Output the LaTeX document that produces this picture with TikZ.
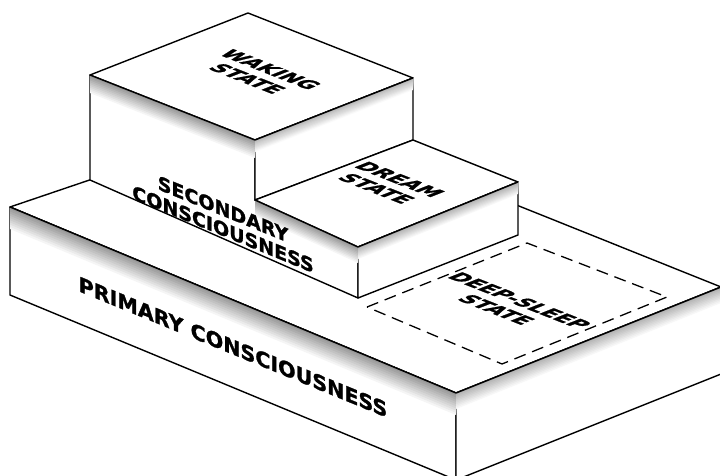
\documentclass[tikz,border=0pt]{standalone}
\usepackage{fontspec}
\newfontfamily\labelfont{DejaVu Sans}[BoldFeatures={FakeBold=1.3}]
\usetikzlibrary{calc}

% grey fade below an edge: from, to, depth, darkness
\newcommand{\edgeshade}[4]{%
  \foreach \k in {0,...,9}{
    \pgfmathtruncatemacro{\shd}{#4*(\k+1)/10}
    \pgfmathsetmacro{\dep}{#3*(10-\k)/10}
    \fill[black!\shd] (#1) -- (#2) -- ($(#2)+(0,\dep)$) -- ($(#1)+(0,\dep)$) -- cycle;
  }}

\begin{document}
\begin{tikzpicture}[
    x=1pt, y=-1pt,
    line join=round,
    face/.style={
        fill=white,
        draw=black,
        line width=1.4pt
    },
    edge/.style={
        draw=black,
        line width=1.4pt
    },
    sleep/.style={
        draw=black,
        line width=1.3pt,
        dash pattern=on 12pt off 7pt
    },
    fronttext/.style={
        font=\labelfont\bfseries\fontsize{19}{20}\selectfont,
        align=center,
        inner sep=0pt,
        yslant=-0.41
    },
    toptext/.style={
        font=\labelfont\bfseries\fontsize{21}{25}\selectfont,
        align=center,
        inner sep=0pt,
        cm={0.93,-0.366,0.931,0.365,(0,0)}
    }
]

    \path[use as bounding box, fill=white] (0,0) rectangle (720,476);

    % Primary slab
    \coordinate (pl) at (10,207);
    \coordinate (pf) at (456,393);
    \coordinate (pr) at (721,287);
    \coordinate (pb) at (287,113);
    \coordinate (plb) at (10,295);
    \coordinate (pfb) at (456,480);
    \coordinate (prb) at (721,374);

    \path[face] (pl) -- (pf) -- (pr) -- (pb) -- cycle;
    \path[face] (pl) -- (pf) -- (pfb) -- (plb) -- cycle;
    \path[face] (pf) -- (pr) -- (prb) -- (pfb) -- cycle;
    \edgeshade{pl}{pf}{22}{40}
    \edgeshade{pf}{pr}{16}{30}
    \draw[edge] (pl) -- (pf) -- (pr);

    % Deep sleep area
    \coordinate (ds1) at (367,307);
    \coordinate (ds2) at (527,243);
    \coordinate (ds3) at (667,297);
    \coordinate (ds4) at (502,364);
    \draw[sleep] (ds1) -- (ds2) -- (ds3) -- (ds4) -- cycle;

    \node[fronttext, font=\labelfont\bfseries\fontsize{20.6}{22}\selectfont] (primtxt) at (233,347) {PRIMARY CONSCIOUSNESS};
    \node[toptext] (slptxt) at (508,305) {DEEP-SLEEP\\STATE};

    % Secondary block: waking and dream steps
    \coordinate (wl) at (90,75);
    \coordinate (wf) at (255,140);
    \coordinate (wr) at (413,78);
    \coordinate (wb) at (248,13);
    \coordinate (wrb) at (413,140);
    \coordinate (dl) at (255,200);
    \coordinate (df) at (358,247);
    \coordinate (dr) at (518,182);
    \coordinate (drb) at (518,235);
    \coordinate (dfb) at (358,298);
    \coordinate (slb) at (90,180);

    \path[face] (wl) -- (wf) -- (dl) -- (df) -- (dfb) -- (slb) -- cycle;
    \path[face] (wl) -- (wf) -- (wr) -- (wb) -- cycle;
    \path[face] (wf) -- (wr) -- (wrb) -- (dl) -- cycle;
    \path[face] (dl) -- (df) -- (dr) -- (wrb) -- cycle;
    \path[face] (df) -- (dr) -- (drb) -- (dfb) -- cycle;
    \edgeshade{wl}{wf}{18}{40}
    \edgeshade{wf}{wr}{12}{28}
    \edgeshade{dl}{df}{16}{40}
    \edgeshade{df}{dr}{12}{30}
    \draw[edge] (wl) -- (wf) -- (wr);
    \draw[edge] (dl) -- (df) -- (dr);

    \node[fronttext] (sectxt) at (223,219) {SECONDARY\\CONSCIOUSNESS};
    \node[toptext] (waktxt) at (259,74) {WAKING\\STATE};
    \node[toptext] (drmtxt) at (388,184) {DREAM\\STATE};

\end{tikzpicture}
\end{document}
